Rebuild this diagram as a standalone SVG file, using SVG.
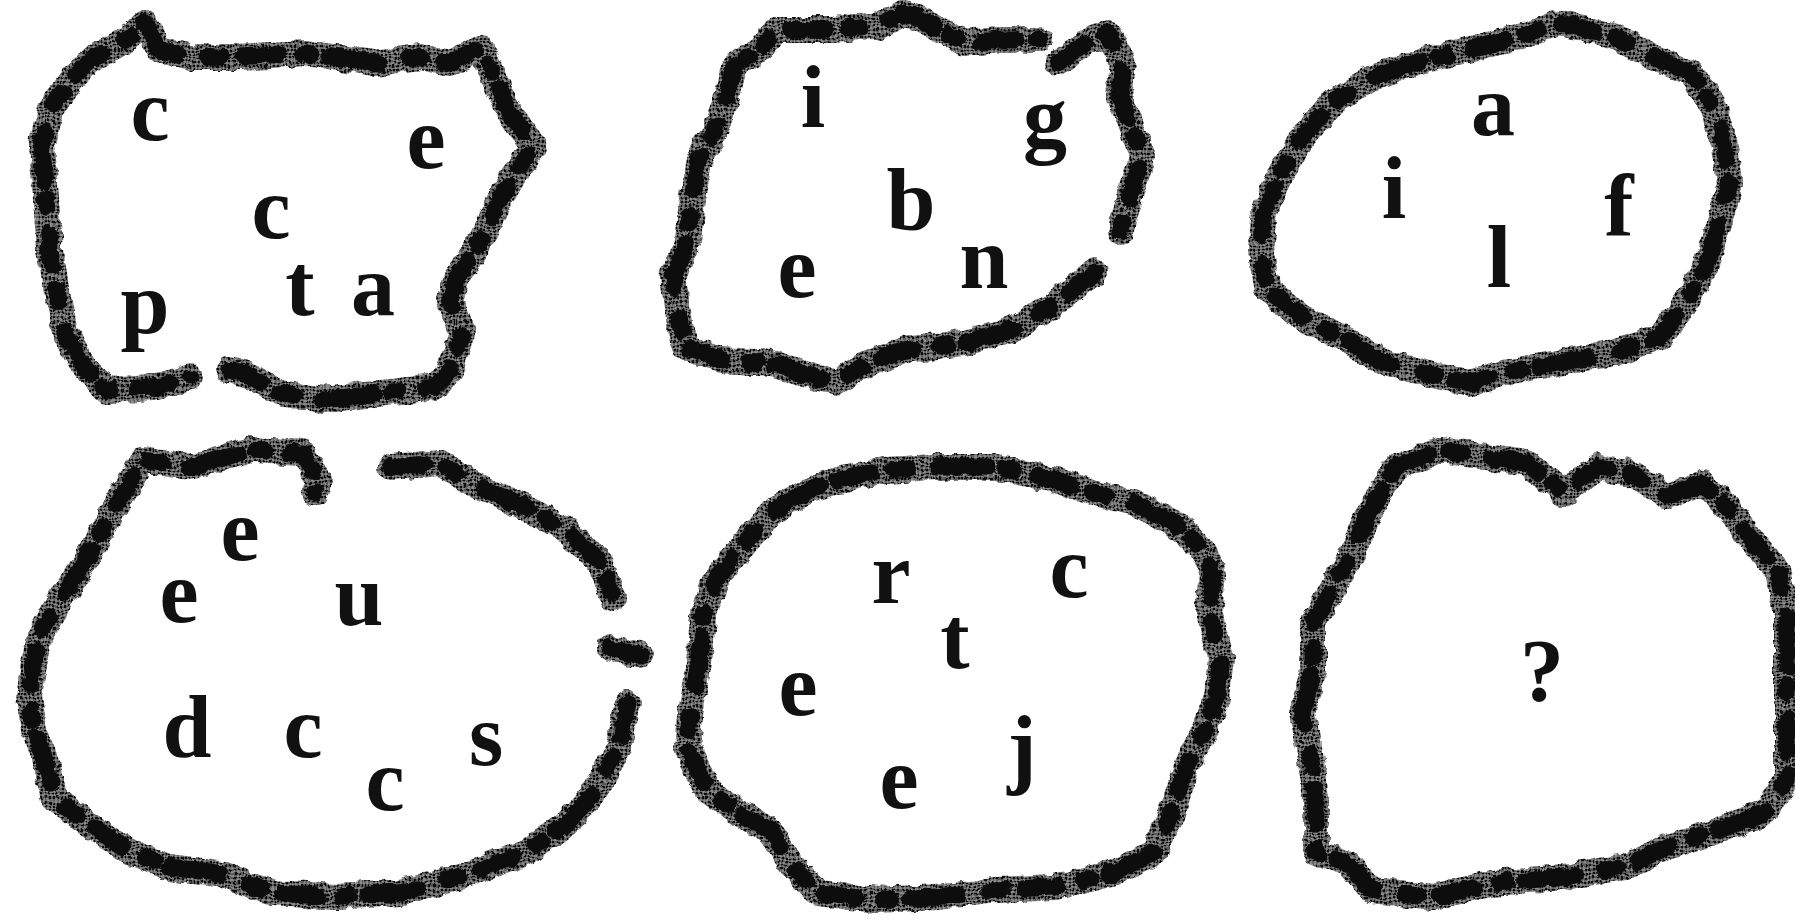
<svg xmlns="http://www.w3.org/2000/svg" xmlns:xlink="http://www.w3.org/1999/xlink" width="1795" height="922" viewBox="0 0 1795 922">
<defs>
<pattern id="ht" width="4" height="4" patternUnits="userSpaceOnUse">
<rect width="4" height="4" fill="#8c8c8c"/>
<circle cx="2" cy="2" r="1.6" fill="#111"/>
</pattern>
<style>
.ring{fill:none;stroke:url(#ht);stroke-width:26;stroke-linejoin:round;stroke-linecap:round;filter:url(#rough)}
.blot{fill:none;stroke:#0c0c0c;stroke-width:17;stroke-linejoin:round;stroke-linecap:round;stroke-dasharray:34 22 14 30 50 18 8 26;filter:url(#rough)}
.ltr{font-family:"Liberation Serif","Times New Roman",serif;font-weight:bold;font-size:88px;fill:#111;text-anchor:middle}
</style>
<filter id="rough" x="-10%" y="-10%" width="120%" height="120%">
<feTurbulence type="fractalNoise" baseFrequency="0.09" numOctaves="2" seed="3"/>
<feDisplacementMap in="SourceGraphic" scale="8" xChannelSelector="R" yChannelSelector="G"/>
</filter>
<path id="p1" d="M229,370 L252,377 L279,393 L324,400 L382,393 L435,387 L450,370 L462,333 L450,300 L458,277 L481,240 L496,207 L515,173 L534,147 L508,110 L494,77 L481,47 L450,63 L420,57 L374,63 L305,53 L237,57 L191,57 L160,50 L145,23 L126,40 L95,57 L73,77 L50,110 L42,143 L46,200 L50,250 L57,293 L65,333 L84,367 L107,390 L153,387 L191,377"/>
<path id="p2" d="M1095,272 L1050,307 L1012,330 L963,343 L905,350 L867,363 L837,383 L814,377 L772,363 L722,360 L684,347 L676,300 L673,277 L688,240 L692,200 L699,160 L715,130 L726,100 L734,67 L760,50 L776,30 L829,30 L875,27 L905,12 L936,27 L963,43 L1001,40 L1039,40 M1058,63 L1089,40 L1108,33 L1123,63 L1119,97 L1134,133 L1142,157 L1134,183 L1120,232"/>
<path id="p3" d="M1561,23 L1615,37 L1653,57 L1691,73 L1710,100 L1722,133 L1729,183 L1718,227 L1706,267 L1687,300 L1661,337 L1615,353 L1558,363 L1500,373 L1470,383 L1424,373 L1378,360 L1348,340 L1306,320 L1268,290 L1260,250 L1264,213 L1279,177 L1298,143 L1332,103 L1374,77 L1424,60 L1481,47 L1531,33 Z"/>
<path id="p4" d="M391,467 L441,463 L471,483 L525,507 L567,530 L601,563 L613,598 M610,648 L640,655 M628,703 L618,747 L597,790 L567,823 L525,853 L471,873 L399,893 L336,897 L273,893 L218,873 L168,867 L126,850 L84,820 L55,800 L46,763 L34,730 L29,697 L34,663 L42,630 L67,590 L92,550 L113,510 L143,460 L189,467 L252,450 L303,453 L319,480 L315,493"/>
<path id="p5" d="M838,480 L885,470 L936,467 L996,467 L1055,480 L1095,493 L1134,503 L1174,523 L1201,547 L1213,573 L1209,613 L1221,657 L1217,697 L1205,730 L1185,770 L1174,807 L1154,853 L1114,873 L1055,887 L996,890 L936,897 L877,900 L818,893 L790,863 L770,830 L739,813 L707,790 L687,747 L691,707 L699,663 L703,617 L715,580 L747,540 L778,507 L810,490 Z"/>
<path id="p6" d="M1396,467 L1441,450 L1486,457 L1528,463 L1563,493 L1598,467 L1632,473 L1667,497 L1702,483 L1730,510 L1750,537 L1778,570 L1787,613 L1787,697 L1787,780 L1764,813 L1719,830 L1667,847 L1625,867 L1563,877 L1493,883 L1434,897 L1372,890 L1347,863 L1316,853 L1316,797 L1309,747 L1302,713 L1313,670 L1313,623 L1337,580 L1354,550 L1365,520 L1382,490 Z"/>
</defs>
<rect width="1795" height="922" fill="#fff"/>
<g id="blob1">
<use href="#p1" xlink:href="#p1" class="ring"/>
<use href="#p1" xlink:href="#p1" class="blot"/>
<text class="ltr" x="150" y="140">c</text>
<text class="ltr" x="426" y="168">e</text>
<text class="ltr" x="271" y="238">c</text>
<text class="ltr" x="145" y="333">p</text>
<text class="ltr" x="300" y="315">t</text>
<text class="ltr" x="373" y="315">a</text>
</g>
<g id="blob2">
<use href="#p2" xlink:href="#p2" class="ring"/>
<use href="#p2" xlink:href="#p2" class="blot"/>
<text class="ltr" x="813" y="127">i</text>
<text class="ltr" x="1045" y="147">g</text>
<text class="ltr" x="911" y="230">b</text>
<text class="ltr" x="797" y="297">e</text>
<text class="ltr" x="984" y="288">n</text>
</g>
<g id="blob3">
<use href="#p3" xlink:href="#p3" class="ring"/>
<use href="#p3" xlink:href="#p3" class="blot"/>
<text class="ltr" x="1493" y="135">a</text>
<text class="ltr" x="1394" y="218">i</text>
<text class="ltr" x="1619" y="235">f</text>
<text class="ltr" x="1499" y="287">l</text>
</g>
<g id="blob4">
<use href="#p4" xlink:href="#p4" class="ring"/>
<use href="#p4" xlink:href="#p4" class="blot"/>
<text class="ltr" x="240" y="560">e</text>
<text class="ltr" x="179" y="622">e</text>
<text class="ltr" x="359" y="625">u</text>
<text class="ltr" x="187" y="757">d</text>
<text class="ltr" x="303" y="757">c</text>
<text class="ltr" x="385" y="810">c</text>
<text class="ltr" x="486" y="765">s</text>
</g>
<g id="blob5">
<use href="#p5" xlink:href="#p5" class="ring"/>
<use href="#p5" xlink:href="#p5" class="blot"/>
<text class="ltr" x="891" y="603">r</text>
<text class="ltr" x="1069" y="597">c</text>
<text class="ltr" x="955" y="668">t</text>
<text class="ltr" x="798" y="715">e</text>
<text class="ltr" x="1022" y="777">j</text>
<text class="ltr" x="899" y="808">e</text>
</g>
<g id="blob6">
<use href="#p6" xlink:href="#p6" class="ring"/>
<use href="#p6" xlink:href="#p6" class="blot"/>
<text class="ltr" x="1542" y="700">?</text>
</g>
</svg>
